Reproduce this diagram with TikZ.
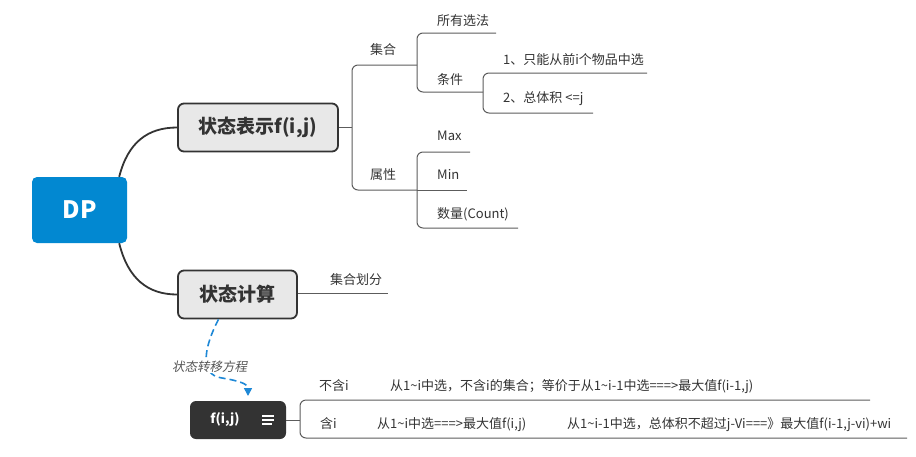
\documentclass[tikz,border=0pt]{standalone}
\usepackage{fontspec}
\setmainfont{Noto Sans CJK SC}
\newfontfamily\slantcjk[FakeSlant=0.2]{Noto Sans CJK SC}
\usetikzlibrary{arrows.meta}

\definecolor{dpblue}{HTML}{0288D1}
\definecolor{ink}{HTML}{333333}
\definecolor{boxgray}{HTML}{E8E8E8}
\definecolor{linegray}{HTML}{5C5C5C}
\definecolor{dashblue}{HTML}{1E88D6}
\definecolor{notegray}{HTML}{555555}

\tikzset{
  rootbox/.style={fill=dpblue, rounded corners=5pt, minimum width=95pt, minimum height=66pt,
    inner sep=0pt, text=white, font=\bfseries\fontsize{24}{24}\selectfont},
  mainbox/.style={draw=ink, line width=1.8pt, fill=boxgray, rounded corners=6pt,
    minimum height=48pt, inner sep=0pt, text=ink, font=\bfseries\fontsize{19}{19}\selectfont},
  darkbox/.style={fill=ink, rounded corners=6pt, minimum width=96pt, minimum height=38pt, inner sep=0pt},
  leaf/.style={anchor=base west, inner sep=0pt, text=ink, font=\fontsize{13}{13}\selectfont},
  limb/.style={draw=ink, line width=1.8pt},
  twig/.style={draw=linegray, line width=1pt, rounded corners=6pt},
  note/.style={fill=white, inner sep=1pt, text=notegray, font=\slantcjk\fontsize{12.5}{12.5}\selectfont},
  flow/.style={draw=dashblue, line width=1.6pt, dash pattern=on 7pt off 4pt,
    -{Triangle[length=8pt,width=8pt]}},
}

\begin{document}
\begin{tikzpicture}[x=1pt,y=-1pt]
  \useasboundingbox (0,0) rectangle (916,456);

  % main topics
  \node[rootbox] (dp) at (79.5,210) {DP};
  \node[mainbox, minimum width=160pt] (repr) at (258,127.5) {状态表示f(i,j)};
  \node[mainbox, minimum width=119pt] (calc) at (237.5,294.5) {状态计算};

  \draw[limb] (dp.north east) ++(-8,0) coordinate (dp-top)
    .. controls (128,142) and (148,127.5) .. (repr.west);
  \draw[limb] (dp.south east) ++(-8,0) coordinate (dp-bot)
    .. controls (128,279) and (148,294.5) .. (calc.west);

  % 状态表示 branch
  \coordinate (r-fork) at (352,127.5);
  \coordinate (set-end) at (417,65);
  \coordinate (attr-end) at (417,190);
  \draw[twig] (repr.east) -- (r-fork);
  \draw[twig] (set-end) -- (352,65) -- (352,190) -- (attr-end);
  \node[leaf] (set) at (370,54) {集合};
  \node[leaf] (attr) at (370,179) {属性};

  % 集合 children
  \coordinate (all-end) at (496,33);
  \coordinate (cond-end) at (483,92);
  \draw[twig] (all-end) -- (417,33) -- (417,92) -- (cond-end);
  \node[leaf] (all) at (437,25) {所有选法};
  \node[leaf] (cond) at (437,84) {条件};

  % 条件 children
  \coordinate (c1-end) at (647,73);
  \coordinate (c2-end) at (593,113);
  \draw[twig] (c1-end) -- (483,73) -- (483,113) -- (c2-end);
  \node[leaf] (c1) at (503,64) {1、只能从前i个物品中选};
  \node[leaf] (c2) at (503,102) {2、总体积 <=j};

  % 属性 children
  \coordinate (max-end) at (470,152);
  \coordinate (min-end) at (467,190);
  \coordinate (cnt-end) at (518,228);
  \draw[twig] (max-end) -- (417,152) -- (417,228) -- (cnt-end);
  \draw[twig] (attr-end) -- (min-end);
  \node[leaf] (max) at (437,140) {Max};
  \node[leaf] (min) at (437,179) {Min};
  \node[leaf] (cnt) at (437,218) {数量(Count)};

  % 状态计算 branch
  \coordinate (split-end) at (388,293.5);
  \draw[twig] (calc.east |- split-end) -- (split-end);
  \node[leaf] (split) at (330,284) {集合划分};

  % transition equation box with its menu icon
  \node[darkbox] (fij) at (238,420) {};
  \node[text=white, inner sep=0pt, font=\bfseries\fontsize{13}{13}\selectfont] (fijtext) at (225,419.5) {f(i,j)};
  \draw[white, line width=1.3pt] (fij.east) ++(-24,-4) -- ++(12,0)
    (fij.east) ++(-24,0) -- ++(12,0)
    (fij.east) ++(-24,4) -- ++(10,0);

  % dashed relation from 状态计算 down to f(i,j)
  \coordinate (flow-tip) at (248,396);
  \draw[flow] (calc.south) ++(-19,0) coordinate (flow-start)
    .. controls (205,345) and (198,375) .. (222,378)
    .. controls (240,381) and (248,384) .. (flow-tip);
  \node[note] (eqlabel) at (209.5,366.5) {状态转移方程};

  % f(i,j) branch
  \coordinate (f-fork) at (300,420);
  \coordinate (ex-end) at (870,400);
  \coordinate (in-end) at (907,438);
  \draw[twig] (fij.east) -- (f-fork);
  \draw[twig] (ex-end) -- (300,400) -- (300,438) -- (in-end);
  \node[leaf] (ex) at (319,390) {不含i};
  \node[leaf] (in) at (320,428) {含i};
  \node[leaf] (exd) at (390,390) {从1\textasciitilde i中选，不含i的集合；等价于从1\textasciitilde i-1中选===>最大值f(i-1,j)};
  \node[leaf] (ind) at (377,428) {从1\textasciitilde i中选===>最大值f(i,j)};
  \node[leaf] (ind2) at (567,428) {从1\textasciitilde i-1中选，总体积不超过j-Vi===》最大值f(i-1,j-vi)+wi};
\end{tikzpicture}
\end{document}
